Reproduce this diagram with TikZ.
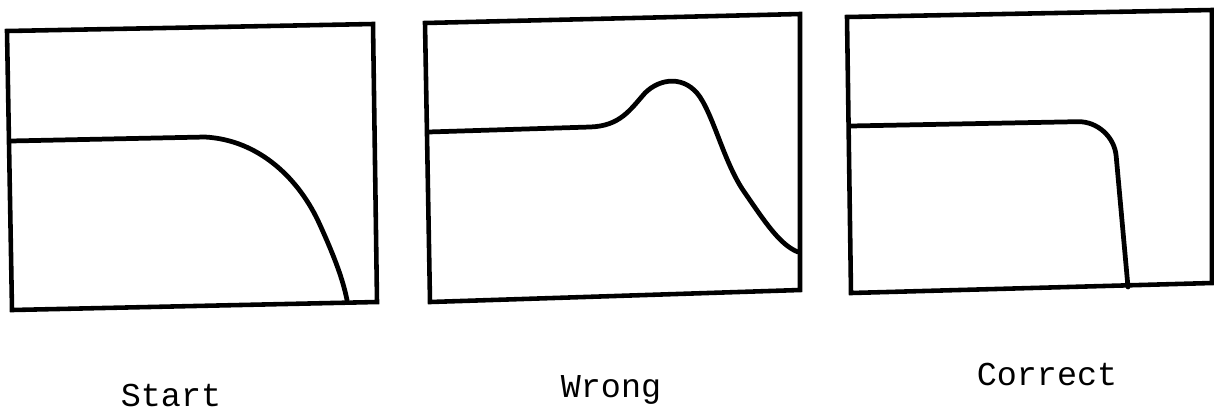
\documentclass[tikz,border=0pt]{standalone}
\usepackage{fontspec}
\setmonofont{Liberation Mono}
\usepackage{tikz}
\usetikzlibrary{positioning}

\begin{document}
\begin{tikzpicture}[
    x=0.02cm, y=-0.02cm,
    frame/.style={line width=2.6pt, black, line join=miter},
    curve/.style={line width=2.7pt, black, line cap=round},
    lbl/.style={font=\ttfamily\fontsize{19}{22}\selectfont, inner sep=0pt, anchor=base}
]
\useasboundingbox (0,0) rectangle (1214,414);

% panel frames
\draw[frame] (7,31) -- (373,24) -- (377,302) -- (12,310) -- cycle;
\draw[frame] (425,23) -- (800,14) -- (800,290) -- (430,302) -- cycle;
\draw[frame] (847,17) -- (1212,10) -- (1212,283) -- (851,293) -- cycle;

% Start
\draw[curve] (10,141) -- (205,137)
    .. controls (260,140) and (300,180) .. (320,225)
    .. controls (335,258) and (343,280) .. (347,300);
% Wrong
\draw[curve] (428,132) -- (590,127)
    .. controls (620,126) and (630,110) .. (645,93)
    .. controls (660,78) and (685,75) .. (700,97)
    .. controls (715,120) and (725,165) .. (745,193)
    .. controls (765,222) and (780,245) .. (798,252);
% Correct
\draw[curve, rounded corners=20] (850,126) -- (1113,121) -- (1128,287);

\node[lbl] (start) at (171,406) {Start};
\node[lbl] (wrong) at (611,397) {Wrong};
\node[lbl] (correct) at (1047,385) {Correct};
\end{tikzpicture}
\end{document}
